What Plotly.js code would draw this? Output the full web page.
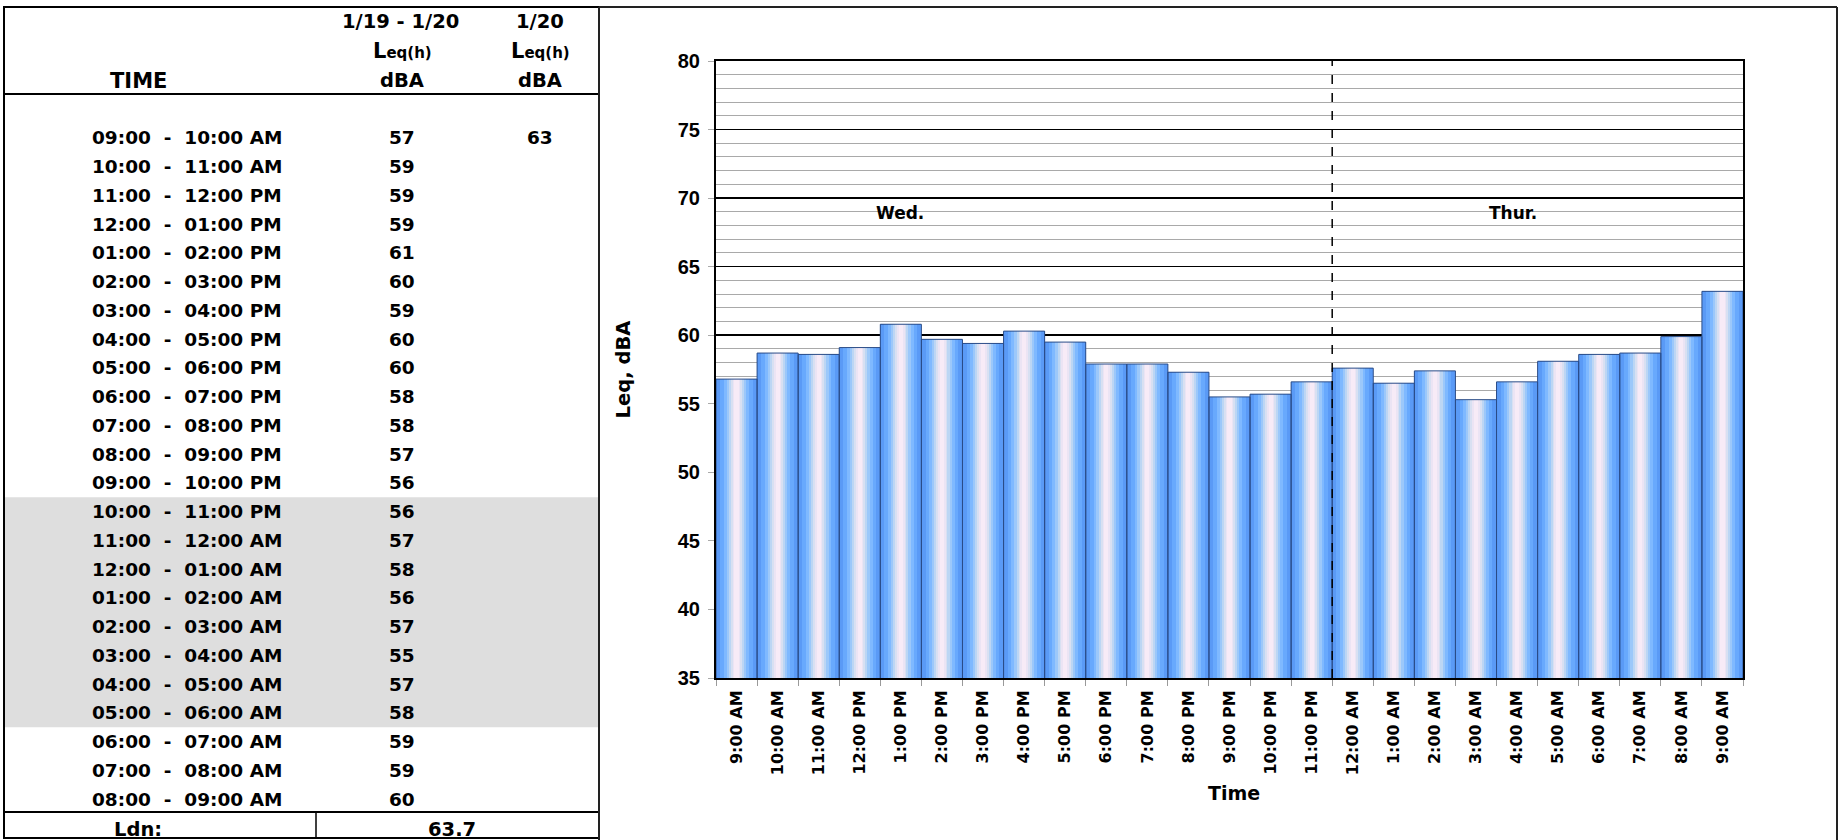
<!DOCTYPE html>
<html>
<head>
<meta charset="utf-8">
<script src="https://cdn.plot.ly/plotly-3.0.1.min.js"></script>
<style>html,body{margin:0;padding:0;background:#fff;}#chart{width:1839px;height:840px;}</style>
</head>
<body>
<div id="chart"></div>
<script>
// ---- data ----
const barLabels = ["9:00 AM","10:00 AM","11:00 AM","12:00 PM","1:00 PM","2:00 PM","3:00 PM","4:00 PM","5:00 PM","6:00 PM","7:00 PM","8:00 PM","9:00 PM","10:00 PM","11:00 PM","12:00 AM","1:00 AM","2:00 AM","3:00 AM","4:00 AM","5:00 AM","6:00 AM","7:00 AM","8:00 AM","9:00 AM"];
const barLeq = [56.8, 58.7, 58.6, 59.1, 60.8, 59.7, 59.4, 60.3, 59.5, 57.9, 57.9, 57.3, 55.5, 55.7, 56.6, 57.6, 56.5, 57.4, 55.3, 56.6, 58.1, 58.6, 58.7, 59.9, 63.2];
const rowStart = ["09:00","10:00","11:00","12:00","01:00","02:00","03:00","04:00","05:00","06:00","07:00","08:00","09:00","10:00","11:00","12:00","01:00","02:00","03:00","04:00","05:00","06:00","07:00","08:00"];
const rowEnd = ["10:00 AM","11:00 AM","12:00 PM","01:00 PM","02:00 PM","03:00 PM","04:00 PM","05:00 PM","06:00 PM","07:00 PM","08:00 PM","09:00 PM","10:00 PM","11:00 PM","12:00 AM","01:00 AM","02:00 AM","03:00 AM","04:00 AM","05:00 AM","06:00 AM","07:00 AM","08:00 AM","09:00 AM"];
const leq1920 = [57,59,59,59,61,60,59,60,60,58,58,57,56,56,57,58,56,57,55,57,58,59,59,60];
const leq20 = ["63"];
const ldnValue = "63.7";
const headerCols = ["1/19 - 1/20", "1/20"];
const dayLabels = ["Wed.", "Thur."];

// ---- helpers (figure pixel -> paper) ----
const W = 1839, H = 840;
const px = x => x / W;
const py = y => 1 - y / H;
const F = 'DejaVu Sans, Verdana, sans-serif';
const nb = '\u00a0';

const xIdx = barLabels.map((_, i) => i);

// gradient layers for bars (style only)
const layerWidths = [1.0, 0.8, 0.62, 0.48, 0.37, 0.27, 0.18, 0.1];
const layerColors = ['#5a9af6', '#68a9fd', '#7fb9ff', '#9cc8fa', '#bcd6f4', '#d8e0f2', '#ebe4f4', '#f7ebf7'];

const traces = layerWidths.map((w, k) => ({
  type: 'bar', x: xIdx, y: barLeq, width: w,
  marker: {color: layerColors[k], line: {width: 0}},
  hoverinfo: 'skip', showlegend: false
}));
traces.push({
  type: 'bar', x: xIdx, y: barLeq, width: 1.0,
  marker: {color: 'rgba(0,0,0,0)', line: {width: 1, color: '#2a4c88'}},
  hoverinfo: 'skip', showlegend: false
});

// ---- table shapes & annotations ----
const shapes = [];
const annotations = [];
const L = 4, R = 599, T = 7, B = 838;
const headerLine = 94, ldnLine = 812, ldnDiv = 316;
const row0 = 138, rowStep = 28.74;
const colTime = 187, colA = 402, colB = 540;

// shaded night rows (10 PM - 6 AM)
const nightFirst = 13, nightLast = 20;
shapes.push({type:'rect', xref:'paper', yref:'paper', layer:'below',
  x0: px(L+1), x1: px(R-1), y0: py(row0 + (nightFirst-0.5)*rowStep), y1: py(row0 + (nightLast+0.5)*rowStep),
  fillcolor:'#dedede', line:{width:0}});
// table frame
shapes.push({type:'rect', xref:'paper', yref:'paper', x0:px(L), x1:px(R), y0:py(T), y1:py(B), line:{color:'#000', width:2}});
shapes.push({type:'line', xref:'paper', yref:'paper', x0:px(L), x1:px(R), y0:py(headerLine), y1:py(headerLine), line:{color:'#000', width:2}});
shapes.push({type:'line', xref:'paper', yref:'paper', x0:px(L), x1:px(R), y0:py(ldnLine), y1:py(ldnLine), line:{color:'#000', width:2}});
shapes.push({type:'line', xref:'paper', yref:'paper', x0:px(ldnDiv), x1:px(ldnDiv), y0:py(ldnLine), y1:py(B), line:{color:'#000', width:1.5}});
// chart frame
shapes.push({type:'line', xref:'paper', yref:'paper', x0:px(R), x1:px(1837), y0:py(T), y1:py(T), line:{color:'#222', width:2}});
shapes.push({type:'line', xref:'paper', yref:'paper', x0:px(1837), x1:px(1837), y0:py(T), y1:py(H), line:{color:'#222', width:2}});
shapes.push({type:'line', xref:'paper', yref:'paper', x0:px(R), x1:px(R), y0:py(T), y1:py(H), line:{color:'#222', width:2}});

// day divider between 11 PM and 12 AM
const midnight = barLabels.indexOf('12:00 AM');
shapes.push({type:'line', xref:'x', yref:'y', x0: midnight-0.5, x1: midnight-0.5, y0:35, y1:80, layer:'above',
  line:{color:'#000', width:1.5, dash:'dash'}});

const tf = (s) => ({family: F, size: s, color: '#000', weight: 'bold'});
function txt(x, y, t, size, anchor) {
  annotations.push({xref:'paper', yref:'paper', x:px(x), y:py(y), text:t, showarrow:false,
    xanchor: anchor || 'center', yanchor:'middle', font: tf(size)});
}
// header
txt(colA - 2, 21, headerCols[0], 19.5);
txt(colB, 21, headerCols[1], 19.5);
const leqH = 'L<span style="font-size:15px">eq(h)</span>';
txt(colA, 51, leqH, 21);
txt(colB, 51, leqH, 21);
txt(138, 81, 'TIME', 21);
txt(colA, 81, 'dBA', 19.5);
txt(colB, 81, 'dBA', 19.5);
// rows
rowStart.forEach((s, i) => {
  const y = row0 + i*rowStep;
  txt(colTime, y, s + nb+nb+'-'+nb+nb + rowEnd[i], 18.5);
  txt(colA, y, String(leq1920[i]), 18.5);
});
leq20.forEach((v, i) => txt(colB, row0 + i*rowStep, v, 18.5));
txt(138, 829, 'Ldn:', 19.5);
txt(452, 829, ldnValue, 19.5);

// chart annotations
annotations.push({xref:'x', yref:'y', x:3.98, y:68.9, text:dayLabels[0], showarrow:false, font: tf(17)});
annotations.push({xref:'x', yref:'y', x:18.9, y:68.9, text:dayLabels[1], showarrow:false, font: tf(17)});
annotations.push({xref:'paper', yref:'paper', x:px(1262), y:py(806), text:'Time', showarrow:false, font: tf(19)});

const layout = {
  width: W, height: H,
  margin: {l:0, r:0, t:0, b:0},
  paper_bgcolor: '#fff', plot_bgcolor: '#fff',
  barmode: 'overlay', bargap: 0,
  showlegend: false,
  xaxis: {
    domain: [px(716), px(1743)],
    range: [-0.5, barLabels.length - 0.5],
    tickmode: 'array', tickvals: xIdx, ticktext: barLabels,
    tickangle: -90, tickfont: tf(16),
    ticks: '', ticklabelstandoff: 4,
    minor: {tick0: -0.5, dtick: 1, ticks: 'outside', ticklen: 6, tickcolor: '#9a9a9a', tickwidth: 1, showgrid: false},
    showline: true, linecolor: '#000', linewidth: 2, mirror: true,
    showgrid: false, zeroline: false, fixedrange: true
  },
  yaxis: {
    domain: [py(678), py(61)],
    range: [35, 80], dtick: 5, tick0: 35,
    tickfont: {family: 'Liberation Sans, Arial, sans-serif', size: 20, color: '#000', weight: 'bold'},
    ticks: 'outside', ticklen: 6, tickcolor: '#aaa', tickwidth: 1, ticklabelstandoff: 4,
    showline: true, linecolor: '#000', linewidth: 2, mirror: true,
    showgrid: true, gridcolor: '#000', gridwidth: 1.5,
    minor: {dtick: 1, showgrid: true, gridcolor: '#a9a9a9', gridwidth: 1},
    zeroline: false, fixedrange: true,
    title: {text: 'Leq, dBA', font: tf(19.5), standoff: 42}
  },
  shapes: shapes,
  annotations: annotations
};

Plotly.newPlot('chart', traces, layout, {displayModeBar: false, staticPlot: true});
</script>
</body>
</html>
